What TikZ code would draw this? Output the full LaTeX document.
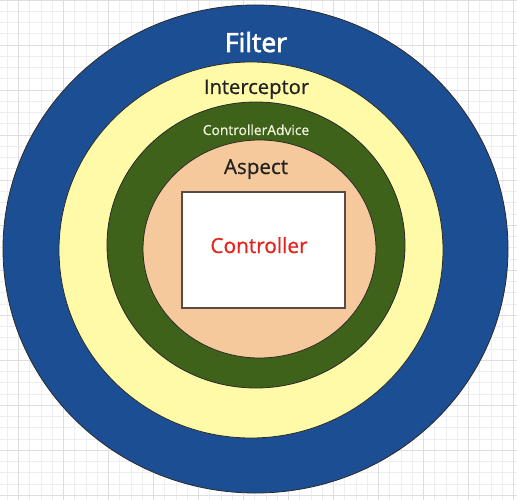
\documentclass[tikz,border=0pt]{standalone}
\usepackage{fontspec}
\setmainfont{Open Sans}
\newfontfamily\medfont[FakeBold=0.7]{Open Sans}
\newfontfamily\semifont[FakeBold=2.3]{Open Sans}
\definecolor{gridminor}{HTML}{EEEEF0}
\definecolor{gridmajor}{HTML}{DEDEE2}
\definecolor{filterblue}{HTML}{1C4E94}
\definecolor{interyellow}{HTML}{FFFAA8}
\definecolor{advgreen}{HTML}{3F621B}
\definecolor{aspectpeach}{HTML}{F5C99B}
\definecolor{ringline}{HTML}{2A2A2A}
\definecolor{boxline}{HTML}{5B4B45}
\definecolor{ctrlred}{HTML}{E3231C}
\definecolor{darktext}{HTML}{222222}
\definecolor{creamtext}{HTML}{F2F5DC}
\tikzset{
  ring/.style={draw=ringline, line width=0.8pt},
  label/.style={inner sep=0pt, anchor=base},
}
\begin{document}
\begin{tikzpicture}[x=1pt,y=-1pt]
\useasboundingbox (0,0) rectangle (517,500);
\fill[white] (0,0) rectangle (517,500);
% grid
\foreach \i in {0,...,46} {
  \draw[gridminor, line width=0.5pt] ({18.3+11.25*(\i-2)},0) -- ({18.3+11.25*(\i-2)},500);
}
\foreach \j in {0,...,45} {
  \draw[gridminor, line width=0.5pt] (0,{11.25*\j}) -- (517,{11.25*\j});
}
\foreach \i in {0,...,12} {
  \draw[gridmajor, line width=0.5pt] ({18.3+45*\i},0) -- ({18.3+45*\i},500);
}
\foreach \j in {0,...,11} {
  \draw[gridmajor, line width=0.5pt] (0,{45*\j}) -- (517,{45*\j});
}
% rings
\draw[ring, fill=filterblue] (255.5,249) ellipse [x radius=252.5, y radius=244];
\draw[ring, fill=interyellow] (251,250) ellipse [x radius=192, y radius=188];
\draw[ring, fill=advgreen] (256,245) ellipse [x radius=149, y radius=143];
\draw[ring, fill=aspectpeach] (259.5,249) ellipse [x radius=116.5, y radius=109];
\draw[boxline, line width=1.2pt, fill=white] (182,192) rectangle (345,308);
% labels
\node[label, text=white, font=\fontsize{26.5}{30}\semifont] (filter) at (256,52) {Filter};
\node[label, text=darktext, font=\fontsize{20.2}{24}\medfont] (interceptor) at (256.5,94) {Interceptor};
\node[label, text=creamtext, font=\fontsize{13.8}{16}\medfont] (advice) at (256,135) {ControllerAdvice};
\node[label, text=darktext, font=\fontsize{20.6}{24}\medfont] (aspect) at (256,174) {Aspect};
\node[label, text=ctrlred, font=\fontsize{20.8}{24}\medfont] (controller) at (259,253) {Controller};
\end{tikzpicture}
\end{document}
